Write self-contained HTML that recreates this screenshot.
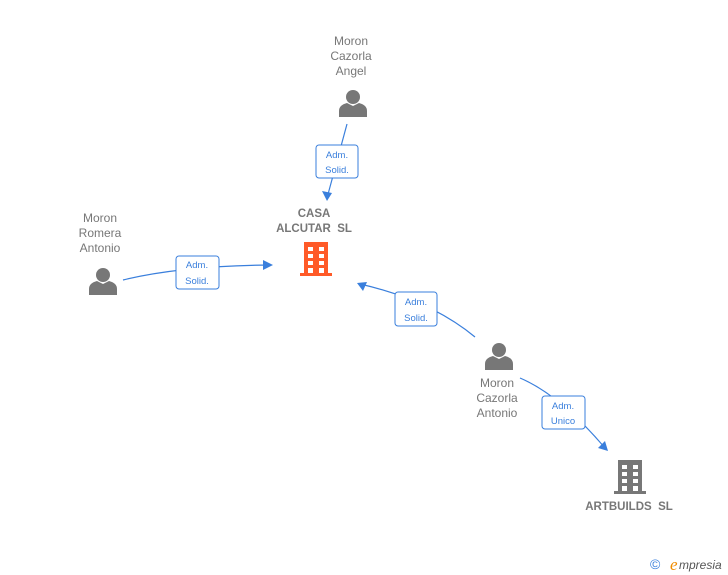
<!DOCTYPE html>
<html><head><style>
html,body{margin:0;padding:0;background:#fff;}
svg{display:block;font-family:"Liberation Sans",Arial,sans-serif;}
text{white-space:pre;}
</style></head><body>
<svg width="728" height="575" viewBox="0 0 728 575">
<defs>
<g id="person" fill="#777">
<circle cx="0" cy="-6" r="7"/>
<path d="M-14,14 L-14,8 Q-14,2 -6,0 L0,3 L6,0 Q14,2 14,8 L14,14 Z"/>
</g>
<g id="bldg">
<rect x="-12" y="-17" width="24" height="32"/>
<rect x="-16" y="14" width="32" height="3"/>
</g>
</defs>
<g stroke="#3a7fdc" stroke-width="1.2" fill="none">
<path d="M347,124 L327,198"/>
<path d="M123,280 Q180,266 270,265"/>
<path d="M475,337 Q430,300 360,284"/>
<path d="M520,378 Q560,395 605,448"/>
</g>
<g fill="#3a7fdc">
<path d="M327,201 L322,191 L332,193 Z"/>
<path d="M273,265 L263,260 L263,270 Z"/>
<path d="M357,283 L367,282 L363,291 Z"/>
<path d="M608,451 L598,448 L605,441 Z"/>
</g>
<g stroke="#3a7fdc" stroke-width="1" fill="#fff">
<rect x="316" y="145" width="42" height="33" rx="3"/>
<rect x="176" y="256" width="43" height="33" rx="3"/>
<rect x="395" y="292" width="42" height="34" rx="3"/>
<rect x="542" y="396" width="43" height="33" rx="3"/>
</g>
<g fill="#3a7fdc" font-size="9.5" text-anchor="middle">
<text x="337" y="158">Adm.</text><text x="337" y="173">Solid.</text>
<text x="197" y="268">Adm.</text><text x="197" y="284">Solid.</text>
<text x="416" y="305">Adm.</text><text x="416" y="321">Solid.</text>
<text x="563" y="409">Adm.</text><text x="563" y="424">Unico</text>
</g>
<use href="#person" x="353" y="103"/>
<use href="#person" x="103" y="281"/>
<use href="#person" x="499" y="356"/>
<g fill="#ff5a28"><use href="#bldg" x="316" y="259"/></g>
<g fill="#fff">
<rect x="308" y="247" width="5" height="4"/><rect x="319" y="247" width="5" height="4"/>
<rect x="308" y="254" width="5" height="4"/><rect x="319" y="254" width="5" height="4"/>
<rect x="308" y="261" width="5" height="4"/><rect x="319" y="261" width="5" height="4"/>
<rect x="308" y="268" width="5" height="5"/><rect x="319" y="268" width="5" height="5"/>
</g>
<g fill="#777"><use href="#bldg" x="630" y="477"/></g>
<g fill="#fff">
<rect x="622" y="465" width="5" height="4"/><rect x="633" y="465" width="5" height="4"/>
<rect x="622" y="472" width="5" height="4"/><rect x="633" y="472" width="5" height="4"/>
<rect x="622" y="479" width="5" height="4"/><rect x="633" y="479" width="5" height="4"/>
<rect x="622" y="486" width="5" height="5"/><rect x="633" y="486" width="5" height="5"/>
</g>
<g fill="#777" font-size="12" text-anchor="middle">
<text x="351" y="45">Moron</text><text x="351" y="60">Cazorla</text><text x="351" y="75">Angel</text>
<text x="100" y="222">Moron</text><text x="100" y="237">Romera</text><text x="100" y="252">Antonio</text>
<text x="497" y="387">Moron</text><text x="497" y="402">Cazorla</text><text x="497" y="417">Antonio</text>
</g>
<g fill="#777" font-size="11.5" font-weight="bold" text-anchor="middle">
<text x="314" y="217">CASA</text><text x="314" y="232">ALCUTAR  SL</text>
<text x="629" y="510">ARTBUILDS  SL</text>
</g>
<text x="650" y="569" font-size="14" fill="#3a7fdc">©</text>
<text x="670" y="570" font-size="17" font-style="italic" fill="#f08c00" font-family="Liberation Serif,serif">e</text>
<text x="679" y="569" font-size="12" font-style="italic" fill="#555">mpresia</text>
</svg>
</body></html>
